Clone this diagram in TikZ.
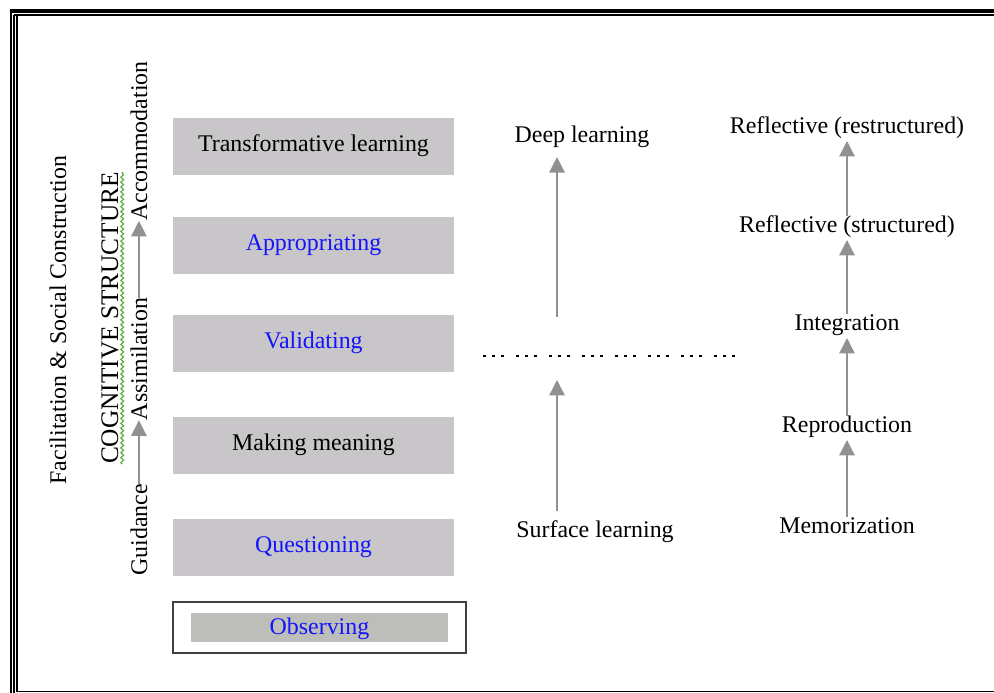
\documentclass[tikz,border=0pt]{standalone}
\usepackage{fontspec}
\setmainfont{Liberation Serif}
\usetikzlibrary{arrows.meta,decorations.pathmorphing}
\definecolor{boxgray}{RGB}{200,198,201}
\definecolor{obsgray}{RGB}{189,190,186}
\definecolor{arrgray}{RGB}{145,145,145}
\definecolor{txtblue}{RGB}{20,20,250}
\definecolor{wavegreen}{RGB}{80,175,60}
\begin{document}
\begin{tikzpicture}[x=0.025cm,y=-0.025cm,
	font=\fontsize{17pt}{20pt}\selectfont,
	arr/.style={draw=arrgray,line width=1pt,-{Triangle[width=11pt,length=11pt,fill=arrgray]}},
	lbl/.style={inner sep=0pt,text height=11.5pt,text depth=5.5pt,anchor=base},
	stage/.style={fill=boxgray,minimum width=7.025cm,minimum height=1.425cm,inner sep=0pt,text height=11.5pt,text depth=4pt},
	side/.style={rotate=90,inner sep=0pt,anchor=base,text height=11.5pt,text depth=0pt},
	squig/.style={draw=wavegreen,line width=.8pt,decorate,decoration={snake,amplitude=1pt,segment length=3.5pt}}]
		\useasboundingbox (0,0) rectangle (994,692);
		% frame
		\draw[line width=2.8pt] (10,11)--(1000,11);
		\draw[line width=1.4pt] (11,9)--(11,700) (14.3,15)--(14.3,700) (14,15)--(1000,15);
		\draw[line width=1pt] (17,15)--(17,691.3)--(1000,691.3);
		% stages
		\foreach \n/\y/\c/\t in {tl/146.5/black/Transformative learning,ap/245.5/txtblue/Appropriating,va/343.5/txtblue/Validating,mm/445.5/black/Making meaning,qu/547.5/txtblue/Questioning}
			\node[stage,text=\c] (\n) at (313.5,\y) {\t};
		\node[draw=black!75,line width=1.2pt,minimum width=7.325cm,minimum height=1.275cm] (obsbox) at (319.5,627.5) {};
		\node[stage,fill=obsgray,minimum width=6.4cm,minimum height=.725cm,text depth=2pt,text=txtblue] (obs) at (obsbox) {Observing};
		% left side
		\node[side] (fac) at (66,320) {Facilitation \& Social Construction};
		\node[side,font=\fontsize{18pt}{20pt}\selectfont,text depth=2.8pt] (cog) at (118,318) {COGNITIVE STRUCTURE};
		\draw[squig] (cog.south west)--(cog.south east);
		\node[side] (guid) at (147,530) {Guidance};
		\node[side] (assim) at (147,359) {Assimilation};
		\node[side] (accom) at (147,141) {Accommodation};
		\draw[arr] (guid.east)--(assim.west);
		\draw[arr] (assim.east)--(accom.west);
		% middle
		\node[lbl] (deep) at (582,142) {Deep learning};
		\node[lbl] (surf) at (595,537) {Surface learning};
		\coordinate (dlow) at (557,317);
		\coordinate (stop) at (557,380);
		\draw[arr,shorten >=5pt] (dlow)--(deep.south -| dlow);
		\draw[arr,shorten <=7pt] (surf.north -| stop)--(stop);
		\coordinate (d1) at (483,356);
		\coordinate (d2) at (736,356);
		\draw[line width=2pt,dash pattern=on 2pt off 4.4pt on 2pt off 4.4pt on 2pt off 8.7pt] (d1)--(d2);
		% right
		\foreach \n/\y/\t in {rr/133/Reflective (restructured),rs/232/Reflective (structured),int/330/Integration,rep/432/Reproduction,mem/533/Memorization}
			\node[lbl] (\n) at (847,\y) {\t};
		\foreach \a/\b in {mem/rep,rep/int,int/rs,rs/rr}\draw[arr] (\a.north)--(\b.south);
\end{tikzpicture}
\end{document}
